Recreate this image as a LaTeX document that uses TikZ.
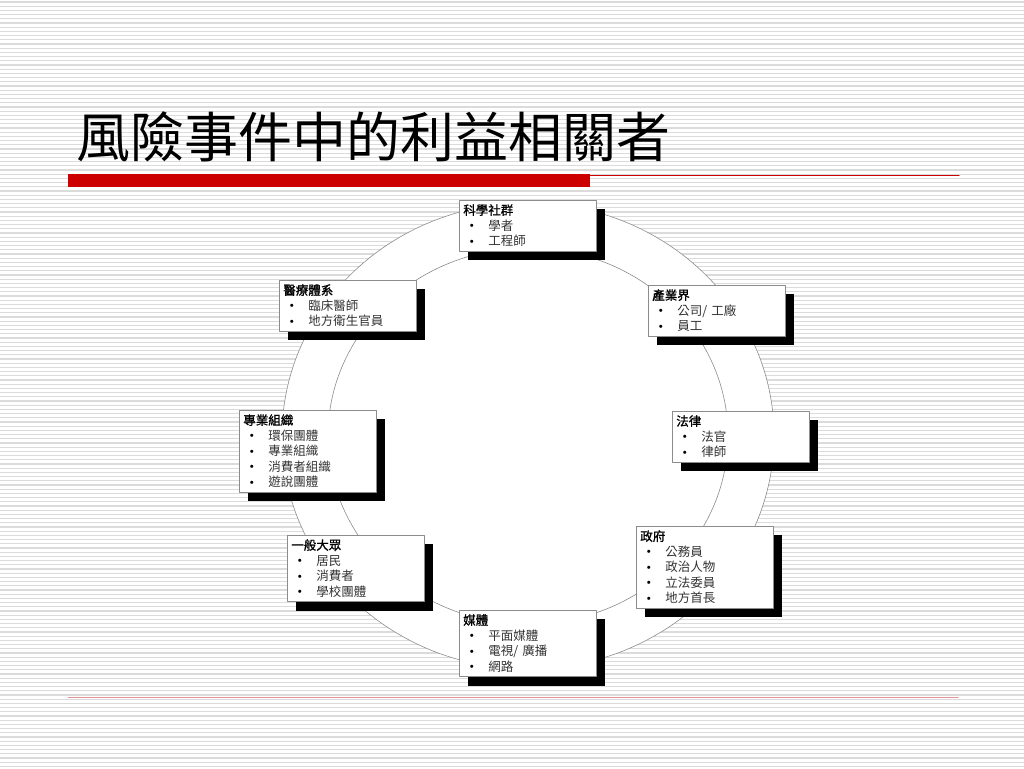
\documentclass[tikz,border=0pt]{standalone}
\usepackage{fontspec}
\usepackage{tikz}
\usetikzlibrary{shadows}
\newfontfamily\cjk{Noto Sans CJK TC}
\newfontfamily\cjkhead{Noto Sans CJK TC}[FakeBold=1.2]
\newfontfamily\cjktitle{Noto Sans CJK TC}
\definecolor{barred}{RGB}{204,0,0}
\definecolor{rulepink}{RGB}{228,150,150}
\newcommand{\itm}[1]{\\\hspace*{1pt}\makebox[24pt][l]{\raisebox{-1.2pt}{\fontsize{15}{10}\selectfont\textbullet}}{\color{black!80}#1}}

\begin{document}
\begin{tikzpicture}[line cap=round,line join=round,x=1pt,y=-1pt,
  stripe/.style={line width=1.2pt,black!14},
  ringline/.style={line width=0.6pt,black!45,fill=white},
  stakebox/.style={draw=black!45,line width=0.6pt,fill=white,anchor=north west,
    text width=129pt,align=left,inner sep=4pt,
    font=\cjk\fontsize{12.5}{15.5}\selectfont,
    drop shadow={shadow xshift=9pt,shadow yshift=-9pt,fill=black,opacity=1}}]
\useasboundingbox (0,0) rectangle (1024,768);
\fill[white] (0,0) rectangle (1024,768);
% background stripes
\foreach \y in {2,6.2,...,768}
  \draw[stripe] (0,\y) -- (1024,\y);
% title and rules
\node[anchor=west,inner sep=0pt,font=\cjktitle\fontsize{54}{58}\selectfont] (title) at (76,137) {風險事件中的利益相關者};
\fill[barred] (68,174) rectangle (590,187);
\draw[line width=1pt,barred] (590,175) -- (959,175);
\draw[line width=1pt,rulepink] (68,697) -- (958,697);
% ring
\draw[ringline] (528,436) ellipse [x radius=246, y radius=233];
\draw[ringline] (528,436) ellipse [x radius=200, y radius=188];
% stakeholders
\node[stakebox] (science) at (459,200) {{\cjkhead 科學社群}\itm{學者}\itm{工程師}};
\node[stakebox] (industry) at (648,285) {{\cjkhead 產業界}\itm{公司/ 工廠}\itm{員工}};
\node[stakebox] (law) at (672,411) {{\cjkhead 法律}\itm{法官}\itm{律師}};
\node[stakebox] (gov) at (636,526) {{\cjkhead 政府}\itm{公務員}\itm{政治人物}\itm{立法委員}\itm{地方首長}};
\node[stakebox] (media) at (459,610) {{\cjkhead 媒體}\itm{平面媒體}\itm{電視/ 廣播}\itm{網路}};
\node[stakebox] (public) at (287,535) {{\cjkhead 一般大眾}\itm{居民}\itm{消費者}\itm{學校團體}};
\node[stakebox] (prof) at (239,410) {{\cjkhead 專業組織}\itm{環保團體}\itm{專業組織}\itm{消費者組織}\itm{遊說團體}};
\node[stakebox] (medical) at (279,280) {{\cjkhead 醫療體系}\itm{臨床醫師}\itm{地方衛生官員}};
\end{tikzpicture}
\end{document}
